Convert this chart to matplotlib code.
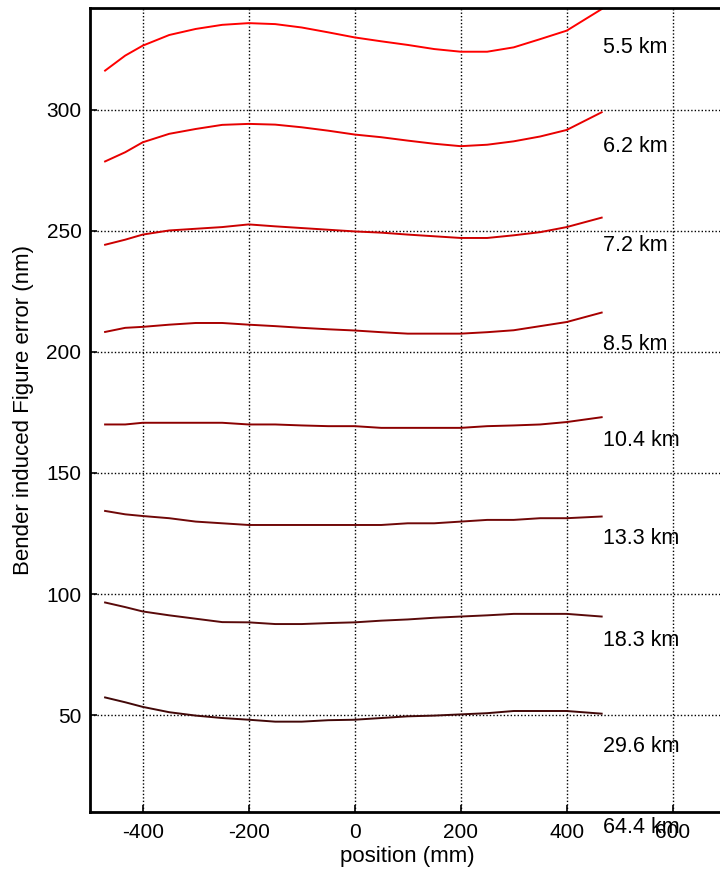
import matplotlib
matplotlib.use("Agg")
import matplotlib.pyplot as plt

plt.rcParams['font.family'] = ['Liberation Sans', 'DejaVu Sans']
plt.rcParams['axes.unicode_minus'] = False

positions = [-471, -433, -400, -350, -300, -250, -200, -150, -100, -50,
             0, 50, 100, 150, 200, 250, 300, 350, 400, 466]

labels = ["5.5 km", "6.2 km", "7.2 km", "8.5 km", "10.4 km", "13.3 km",
          "18.3 km", "29.6 km", "64.4 km"]
label_y = [325.6, 284.7, 244.0, 202.9, 163.5, 123.0, 81.0, 37.0, 3.5]

err_5_5 = [316.1, 322.3, 326.4, 330.8, 333.3, 335.0, 335.7, 335.3, 333.9, 331.9,
           329.8, 328.2, 326.7, 325.0, 323.9, 323.9, 325.7, 329.1, 332.6, 341.5]
err_6_2 = [278.6, 282.4, 286.5, 290.0, 292.0, 293.7, 294.1, 293.8, 292.7, 291.3,
           289.7, 288.6, 287.2, 285.9, 284.9, 285.5, 286.9, 288.9, 291.6, 298.9]
err_7_2 = [244.2, 246.3, 248.4, 250.1, 250.8, 251.5, 252.6, 251.8, 251.1, 250.4,
           249.7, 249.2, 248.4, 247.7, 247.0, 247.0, 248.1, 249.4, 251.5, 255.4]
err_8_5 = [208.2, 209.9, 210.3, 211.2, 211.9, 211.9, 211.2, 210.6, 209.9, 209.3,
           208.8, 208.1, 207.5, 207.5, 207.5, 208.1, 208.9, 210.6, 212.3, 216.2]
err_10_4 = [170.0, 170.0, 170.7, 170.7, 170.7, 170.7, 170.0, 170.0, 169.6, 169.3,
            169.3, 168.6, 168.6, 168.6, 168.6, 169.3, 169.6, 170.0, 171.0, 173.0]
err_13_3 = [134.3, 132.9, 132.2, 131.3, 129.9, 129.2, 128.5, 128.5, 128.5, 128.5,
            128.5, 128.5, 129.2, 129.2, 129.9, 130.6, 130.6, 131.3, 131.3, 132.0]
err_18_3 = [96.5, 94.6, 92.8, 91.2, 89.8, 88.4, 88.3, 87.6, 87.6, 88.0,
            88.3, 89.0, 89.5, 90.2, 90.7, 91.2, 91.8, 91.8, 91.8, 90.7]
err_29_6 = [57.3, 55.3, 53.4, 51.2, 49.8, 48.8, 48.1, 47.3, 47.3, 47.9,
            48.1, 48.8, 49.5, 49.8, 50.3, 50.8, 51.7, 51.7, 51.7, 50.6]

series = [err_5_5, err_6_2, err_7_2, err_8_5, err_10_4, err_13_3, err_18_3, err_29_6]
colors = ["#ff0000", "#e80000", "#cc0000", "#a80000", "#8c0000", "#700808",
          "#5a0a0a", "#420808"]

fig = plt.figure(figsize=(7.2, 8.75), dpi=100)
ax = fig.add_axes([0.1246, 0.072, 0.8833, 0.919])

for vals, c in zip(series, colors):
    ax.plot(positions, vals, color=c, lw=1.4)

for lab, y in zip(labels, label_y):
    ax.text(469, y, lab, fontsize=15.5, ha='left', va='center', clip_on=False,
            zorder=5)

ax.set_xlim(-500, 700)
ax.set_ylim(10, 342)
ax.set_xticks([-400, -200, 0, 200, 400, 600])
ax.set_yticks([50, 100, 150, 200, 250, 300])
ax.grid(True, color='black', linestyle=(0, (1, 1.5)), linewidth=1.0)
ax.tick_params(direction='in', labelsize=15, length=5, width=1.2)
ax.tick_params(axis='x', pad=8)
ax.tick_params(axis='y', pad=6)
for s in ['left', 'bottom', 'top']:
    ax.spines[s].set_linewidth(2)
ax.spines['right'].set_visible(False)
ax.set_xlabel("position (mm)", fontsize=16, labelpad=3)
ax.set_ylabel("Bender induced Figure error (nm)", fontsize=16, labelpad=9)

fig.savefig("out.png", dpi=100)
